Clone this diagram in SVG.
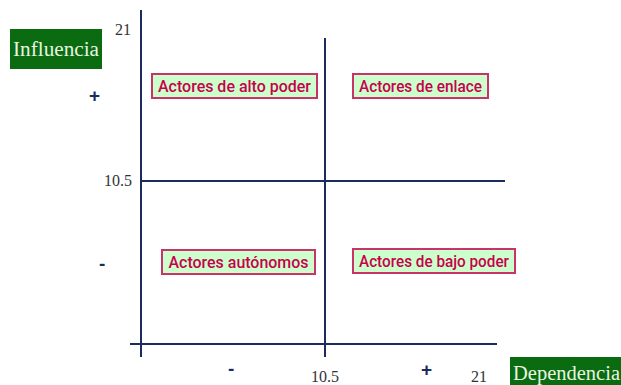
<svg xmlns="http://www.w3.org/2000/svg" width="621" height="385" viewBox="0 0 621 385">
<style>
.ax{stroke:#1b2b5e;stroke-width:2;fill:none}
.lbl{font-family:"Liberation Serif",serif;font-size:16px;fill:#333}
.sgn{font-family:"Liberation Sans",sans-serif;font-size:19px;font-weight:bold;fill:#1b2b5e}
.box rect{fill:#ccffcc;stroke:#c8336a;stroke-width:2}
.box text{font-family:"Roboto","Liberation Sans",sans-serif;font-size:17px;font-weight:500;fill:#c8004e;text-anchor:middle}
.tag rect{fill:#0a6b10}
.tag text{font-family:"Liberation Serif",serif;font-size:20px;fill:#e8f5e0}
</style>
<rect width="621" height="385" fill="#fff"/>
<g id="connectors">
<line class="ax" x1="141" y1="10" x2="141" y2="357"/>
<line class="ax" x1="130" y1="344" x2="497" y2="344"/>
<line class="ax" x1="325" y1="38" x2="325" y2="357"/>
<line class="ax" x1="140" y1="181" x2="505" y2="181"/>
</g>
<g id="influencia" class="tag"><rect x="10" y="29" width="92" height="40"/><text x="13" y="56" textLength="86" lengthAdjust="spacingAndGlyphs">Influencia</text></g>
<g id="dependencia" class="tag"><rect x="510" y="357" width="111" height="28"/><text x="513" y="380" textLength="107" lengthAdjust="spacingAndGlyphs">Dependencia</text></g>
<g id="alto" class="box"><rect x="152" y="74" width="165" height="24"/><text x="234.5" y="92" textLength="153" lengthAdjust="spacingAndGlyphs">Actores de alto poder</text></g>
<g id="enlace" class="box"><rect x="353" y="74" width="135" height="24"/><text x="420.5" y="92" textLength="123" lengthAdjust="spacingAndGlyphs">Actores de enlace</text></g>
<g id="autonomos" class="box"><rect x="162" y="250" width="153" height="24"/><text x="238.5" y="268" textLength="140" lengthAdjust="spacingAndGlyphs">Actores autónomos</text></g>
<g id="bajo" class="box"><rect x="353" y="249" width="162" height="24"/><text x="434" y="267" textLength="150" lengthAdjust="spacingAndGlyphs">Actores de bajo poder</text></g>
<g id="ticks">
<text class="lbl" x="115" y="35">21</text>
<text class="lbl" x="104" y="186">10.5</text>
<text class="lbl" x="311" y="382">10.5</text>
<text class="lbl" x="471" y="382">21</text>
<text class="sgn" x="89" y="102">+</text>
<text class="sgn" x="99" y="270">-</text>
<text class="sgn" x="228" y="375">-</text>
<text class="sgn" x="421" y="376">+</text>
</g>
</svg>
